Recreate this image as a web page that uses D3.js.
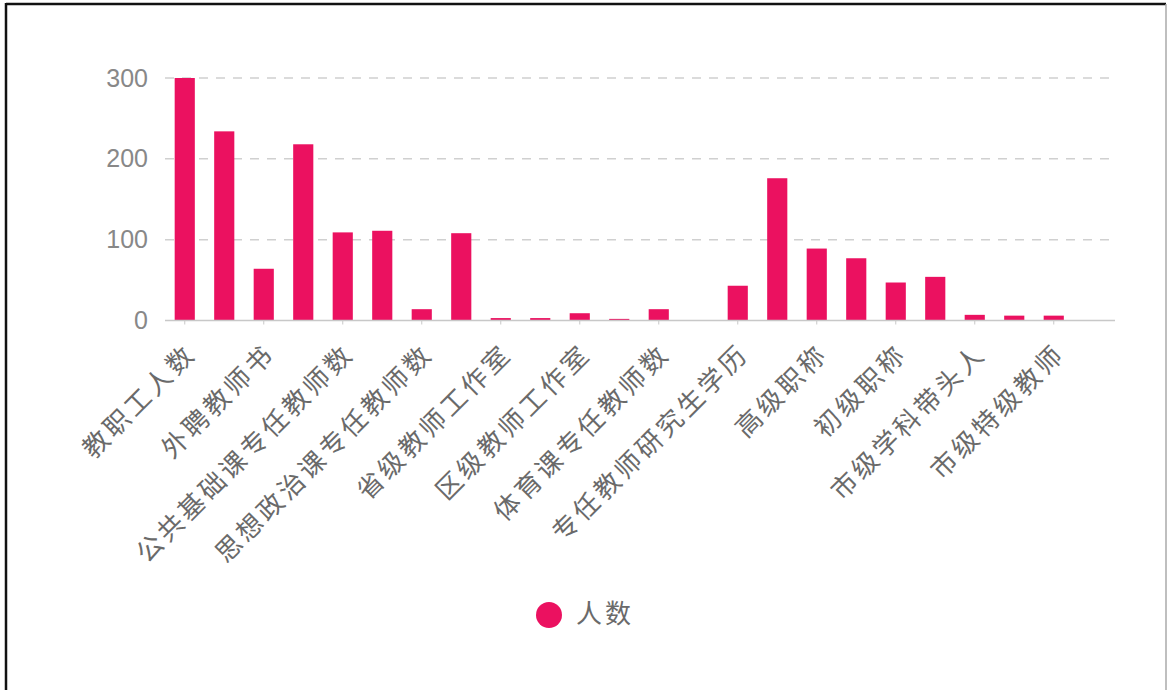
<!DOCTYPE html>
<html>
<head>
<meta charset="utf-8">
<script src="https://cdn.jsdelivr.net/npm/d3@7"></script>
<style>
  body { margin: 0; background: #fff; }
</style>
</head>
<body>
<div id="chart"></div>
<script>
// data
const categories = [
  "教职工人数", "专任教师数", "外聘教师书", "专业课专任教师数",
  "公共基础课专任教师数", "双师型教师数", "思想政治课专任教师数", "兼职教师数",
  "省级教师工作室", "市级教师工作室", "区级教师工作室", "校级教师工作室",
  "体育课专任教师数", "博士研究生学历", "专任教师研究生学历", "中级职称",
  "高级职称", "本科学历", "初级职称", "骨干教师",
  "市级学科带头人", "区级学科带头人", "市级特级教师", "正高级职称"
];
const values = [300, 234, 64, 218, 109, 111, 14, 108, 3, 3, 9, 2,
                14, 0, 43, 176, 89, 77, 47, 54, 7, 6, 6, 0];
const yTicks = [0, 100, 200, 300];
const seriesName = "人数";

const W = 1168, H = 690;
const plot = {left: 165, right: 1113, top: 78, bottom: 320.5};
const barColor = "#eb1160";

const svg = d3.select("#chart")
  .append("svg")
    .attr("width", W)
    .attr("height", H);

// frame
svg.append("line").attr("x1", 6).attr("x2", 1166).attr("y1", 4).attr("y2", 4)
  .style("stroke", "#111").style("stroke-width", 2.5);
svg.append("line").attr("x1", 6).attr("x2", 6).attr("y1", 3).attr("y2", 690)
  .style("stroke", "#111").style("stroke-width", 2.5);
svg.append("line").attr("x1", 1166).attr("x2", 1166).attr("y1", 4).attr("y2", 690)
  .style("stroke", "#aaa").style("stroke-width", 1.5);

// scales
let x = d3.scaleBand()
  .domain(categories)
  .range([plot.left, plot.right]);

let y = d3.scaleLinear()
  .domain([0, 300])
  .range([plot.bottom, plot.top]);

// grid lines
svg.append("g")
  .selectAll("line")
  .data(yTicks.filter(d => d > 0))
  .enter()
  .append("line")
    .attr("x1", plot.left)
    .attr("x2", plot.right)
    .attr("y1", d => y(d))
    .attr("y2", d => y(d))
    .style("stroke", "#d0d0d0")
    .style("stroke-width", 1.5)
    .style("stroke-dasharray", "9,8");

// y axis labels
let yAxis = d3.axisLeft(y).tickValues(yTicks).tickSize(0).tickPadding(17);
svg.append("g")
  .attr("class", "y-axis")
  .attr("transform", "translate(" + plot.left + ",0)")
  .call(yAxis)
  .call(g => g.select(".domain").remove())
  .selectAll("text")
    .style("font-family", "'Liberation Sans', Arial, sans-serif")
    .style("font-size", "25px")
    .style("fill", "#888");

// bars
const barW = x.bandwidth() * 0.51;
svg.selectAll("myRect")
  .data(categories)
  .enter()
  .append("rect")
    .attr("x", (d, i) => x(d) + (x.bandwidth() - barW) / 2)
    .attr("y", (d, i) => y(values[i]))
    .attr("width", barW)
    .attr("height", (d, i) => y(0) - y(values[i]))
    .attr("fill", barColor);

// x axis
const shown = categories.filter((d, i) => i % 2 === 0);
let xAxis = d3.axisBottom(x).tickValues(shown).tickSize(4).tickFormat("");
let xg = svg.append("g")
  .attr("class", "x-axis")
  .attr("transform", "translate(0," + plot.bottom + ")")
  .call(xAxis);
xg.select(".domain")
  .attr("d", "M" + plot.left + ",0H" + (plot.right + 2))
  .style("stroke", "#c8c8c8")
  .style("stroke-width", 1.5);
xg.selectAll(".tick line").style("stroke", "#c8c8c8");

// rotated labels
svg.append("g")
  .selectAll("text")
  .data(shown)
  .enter()
  .append("text")
    .attr("transform", d => "translate(" + (x(d) + x.bandwidth() / 2 + 8) + "," + (plot.bottom + 30) + ") rotate(-45)")
    .attr("text-anchor", "end")
    .attr("dominant-baseline", "middle")
    .style("font-family", "'Noto Sans CJK SC', sans-serif")
    .style("font-size", "26px")
    .style("letter-spacing", "3.5px")
    .style("fill", "#6a6a6a")
    .text(d => d);

// legend
svg.append("circle")
  .attr("cx", 549)
  .attr("cy", 615)
  .attr("r", 13)
  .attr("fill", barColor);
svg.append("text")
  .attr("x", 576)
  .attr("y", 616)
  .attr("dominant-baseline", "middle")
  .style("font-family", "'Noto Sans CJK SC', sans-serif")
  .style("font-size", "26px")
  .style("letter-spacing", "3px")
  .style("fill", "#6a6a6a")
  .text(seriesName);
</script>
</body>
</html>
